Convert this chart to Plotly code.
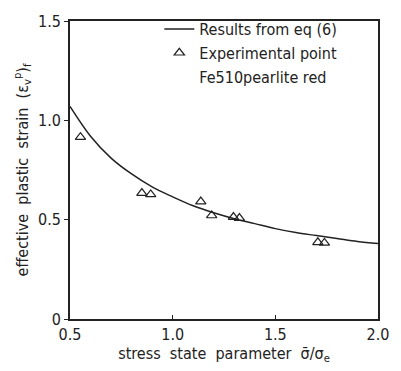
import plotly.graph_objects as go

# Curve "Results from eq (6)"
curve_x = [0.50, 0.60, 0.70, 0.80, 0.90, 1.00, 1.10, 1.20, 1.30, 1.40, 1.50, 1.60, 1.70, 1.80, 1.90, 2.00]
curve_y = [1.07, 0.92, 0.81, 0.73, 0.665, 0.615, 0.57, 0.535, 0.505, 0.48, 0.455, 0.435, 0.42, 0.405, 0.39, 0.38]

# Experimental points (Fe510 pearlite red)
exp_x = [0.551, 0.85, 0.893, 1.137, 1.19, 1.296, 1.325, 1.707, 1.739]
exp_y = [0.915, 0.634, 0.627, 0.591, 0.521, 0.513, 0.508, 0.386, 0.383]

x_ticks = [0.5, 1.0, 1.5, 2.0]
x_tick_labels = ["0.5", "1.0", "1.5", "2.0"]
y_ticks = [0, 0.5, 1.0, 1.5]
y_tick_labels = ["0", "0.5", "1.0", "1.5"]

FONT = "DejaVu Sans Condensed, Liberation Sans Narrow, sans-serif"
INK = "#222222"

fig = go.Figure()
fig.add_trace(go.Scatter(
    x=curve_x, y=curve_y, mode="lines", name="Results from eq (6)",
    line=dict(color=INK, width=1.5, shape="spline"),
))
fig.add_trace(go.Scatter(
    x=exp_x, y=exp_y, mode="markers", name="Experimental point",
    marker=dict(symbol="triangle-up-open", size=9, color=INK, line=dict(width=1.2, color=INK)),
))
# legend-only continuation line of the experimental entry
fig.add_trace(go.Scatter(
    x=[None], y=[None], mode="markers", name="Fe510pearlite red",
    marker=dict(size=1, color="rgba(0,0,0,0)"), hoverinfo="skip",
))

axis_common = dict(
    showgrid=False, zeroline=False, showline=True, linecolor=INK, linewidth=1.6,
    mirror=True, ticks="outside", ticklen=4, tickcolor=INK,
    tickfont=dict(family=FONT, size=16, color=INK),
)

fig.update_layout(
    width=401, height=371,
    margin=dict(l=70, r=17, t=18, b=46),
    paper_bgcolor="white", plot_bgcolor="white",
    font=dict(family=FONT, size=15, color=INK),
    showlegend=True,
    legend=dict(
        x=0.29, y=1.03, xanchor="left", yanchor="top",
        bgcolor="rgba(0,0,0,0)", borderwidth=0,
        font=dict(family=FONT, size=16, color=INK),
        tracegroupgap=0, itemwidth=30,
    ),
    xaxis=dict(
        axis_common, range=[0.5, 2.0], tickvals=x_ticks, ticktext=x_tick_labels,
        ticks="inside",
        title=dict(text="stress  state  parameter  σ̄/σ<sub>e</sub>", standoff=4,
                   font=dict(family=FONT, size=16, color=INK)),
    ),
    yaxis=dict(
        axis_common, range=[0, 1.5], tickvals=y_ticks, ticktext=y_tick_labels,
        title=dict(text="effective  plastic  strain  (ε<sub>v</sub><sup>p</sup>)<sub>f</sub>", standoff=6,
                   font=dict(family=FONT, size=16, color=INK)),
    ),
)

fig.write_html("out.html")
